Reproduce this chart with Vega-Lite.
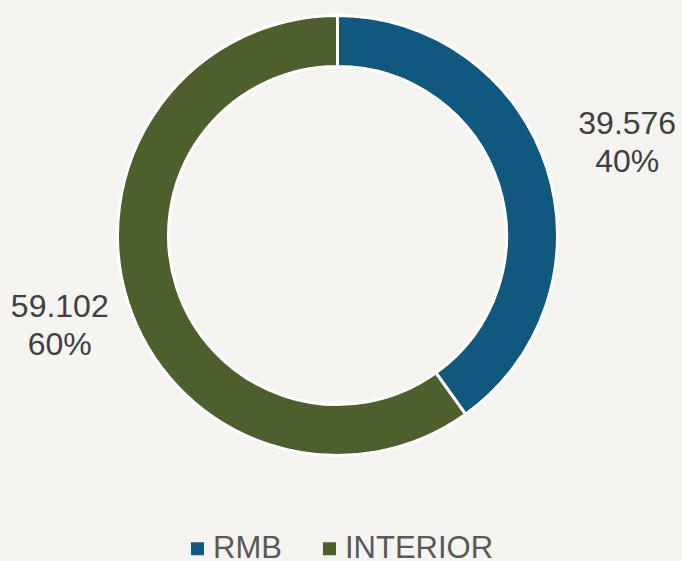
{
  "$schema": "https://vega.github.io/schema/vega-lite/v6.json",
  "autosize": {"type": "none"},
  "width": 675,
  "height": 471,
  "padding": {"left": 0, "top": 0, "right": 7, "bottom": 90},
  "background": "#f5f4f0",
  "config": {"view": {"stroke": null}},
  "data": {
    "values": [
      {"category": "RMB", "value": 39.576, "pct": "40%"},
      {"category": "INTERIOR", "value": 59.102, "pct": "60%"}
    ]
  },
  "encoding": {
    "theta": {"field": "value", "type": "quantitative", "stack": true},
    "order": {"field": "category", "sort": "descending"},
    "color": {
      "field": "category",
      "type": "nominal",
      "scale": {"domain": ["RMB", "INTERIOR"], "range": ["#11587f", "#4e5f2e"]},
      "legend": {
        "title": null,
        "orient": "none",
        "direction": "horizontal",
        "legendX": 182,
        "legendY": 533,
        "symbolType": "square",
        "symbolSize": 169,
        "symbolStrokeWidth": 0,
        "labelFont": "Liberation Sans",
        "labelFontSize": 31,
        "labelColor": "#595959",
        "labelOffset": 0,
        "columnPadding": 32
      }
    }
  },
  "layer": [
    {
      "mark": {"type": "arc", "outerRadius": 220, "innerRadius": 169, "stroke": "#ffffff", "strokeWidth": 3}
    },
    {
      "mark": {"type": "text", "radius": 298, "dx": 6, "dy": -20, "font": "Liberation Sans", "fontSize": 32, "color": "#404040"},
      "encoding": {
        "text": {"field": "value", "type": "quantitative", "format": ".3f"},
        "color": {"value": "#404040"}
      }
    },
    {
      "mark": {"type": "text", "radius": 298, "dx": 6, "dy": 18, "font": "Liberation Sans", "fontSize": 32, "color": "#404040"},
      "encoding": {
        "text": {"field": "pct", "type": "nominal"},
        "color": {"value": "#404040"}
      }
    }
  ]
}
